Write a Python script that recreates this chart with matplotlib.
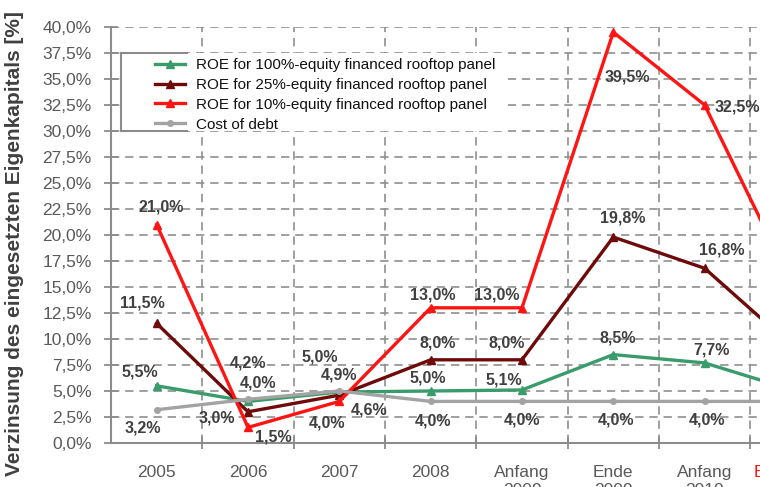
import matplotlib
matplotlib.use("Agg")
import matplotlib.pyplot as plt
from matplotlib.patches import Rectangle
from matplotlib.lines import Line2D

plt.rcParams['font.family'] = ['Liberation Sans', 'DejaVu Sans']

# --- data -------------------------------------------------------------
categories = ["2005", "2006", "2007", "2008", "Anfang\n2009", "Ende\n2009",
              "Anfang\n2010", "Ende 2010"]
roe_100 = [5.5, 4.0, 4.9, 5.0, 5.1, 8.5, 7.7, 5.0]
roe_25 = [11.5, 3.0, 4.6, 8.0, 8.0, 19.8, 16.8, 9.0]
roe_10 = [21.0, 1.5, 4.0, 13.0, 13.0, 39.5, 32.5, 14.5]
cost_of_debt = [3.2, 4.2, 5.0, 4.0, 4.0, 4.0, 4.0, 4.0]
y_ticks = [i * 2.5 for i in range(17)]

series_names = ["ROE for 100%-equity financed rooftop panel",
                "ROE for 25%-equity financed rooftop panel",
                "ROE for 10%-equity financed rooftop panel",
                "Cost of debt"]

# label offsets (pixels) for the value annotations of each series
off_100 = [(-17, 14), (10, 18), (0, 17), (-3, 13), (-18, 10), (4, 17), (7, 13)]
off_25 = [(-14, 20), (-31, -6), (30, -15), (7, 17), (-15, 17), (9, 19), (17, 18)]
off_10 = [(5, 18), (25, -10), (-12, -22), (2, 13), (-25, 13), (14, -45), (33, -2)]
off_debt = [(-14, -18), (0, 36), (-20, 34), (2, -20), (0, -19), (3, -19), (2, -19)]

GREEN = "#3a9b6b"
DARKRED = "#6e0a0a"
RED = "#ff1414"
GREY = "#a3a3a3"
LABEL = "#404040"
AXIS = "#8c8c8c"

fig = plt.figure(figsize=(7.6, 4.87), dpi=100)
ax = fig.add_axes([111 / 760, 44 / 487, 8 * 91.33 / 760, 416 / 487])

x = list(range(len(categories)))
styles = [
    (roe_100, GREEN, '^', 6, off_100),
    (roe_25, DARKRED, '^', 6, off_25),
    (roe_10, RED, '^', 6, off_10),
    (cost_of_debt, GREY, 'o', 4, off_debt),
]
handles = []
for (vals, col, mk, ms, offs), name in zip(styles, series_names):
    h, = ax.plot(x, vals, color=col, lw=2.4, marker=mk, ms=ms,
                 markeredgecolor=col, zorder=3, label=name)
    handles.append(h)
    for xi, v, (dx, dy) in zip(x, vals, offs):
        ax.annotate(f"{v:.1f}".replace('.', ',') + "%", (xi, v),
                    xytext=(dx, dy), textcoords='offset pixels',
                    ha='center', va='center', fontsize=11.5,
                    fontweight='bold', color=LABEL, zorder=4)

ax.set_xlim(-0.5, len(categories) - 0.5)
ax.set_ylim(0, 40)

# category labels at centres, tick marks and vertical grid at boundaries
ax.set_xticks(x)
ax.set_xticklabels(categories, fontsize=12.5, color="#595959", va='top',
                   linespacing=1.25)
ax.get_xticklabels()[-1].set_color(RED)
ax.tick_params(axis='x', which='major', length=0, pad=16)
ax.set_xticks([i + 0.5 for i in range(len(categories) - 1)], minor=True)
ax.tick_params(axis='x', which='minor', direction='inout', length=9,
               width=1.3, color=AXIS)

ax.set_yticks(y_ticks)
ax.set_yticklabels([f"{t:.1f}".replace('.', ',') + "%" for t in y_ticks],
                   fontsize=12.5, color="#595959")
ax.tick_params(axis='y', direction='inout', length=10, width=1.3,
               color=AXIS, pad=9)

ax.set_axisbelow(True)
ax.grid(axis='y', which='major', linestyle=(0, (5, 3.5)), color="#8f8f8f",
        lw=1.2)
ax.grid(axis='x', which='minor', linestyle=(0, (5, 3.5)), color="#8f8f8f",
        lw=1.2)

for side in ('top', 'right'):
    ax.spines[side].set_visible(False)
for side in ('left', 'bottom'):
    ax.spines[side].set_color(AXIS)
    ax.spines[side].set_linewidth(1.5)

# legend area: white panel with a partial frame
x0, x1, xr = 0.0133, 0.1036, 0.543
y0, y1 = 0.75, 0.9375
ax.add_patch(Rectangle((x0, y0), xr - x0, y1 - y0, transform=ax.transAxes,
                       facecolor='white', edgecolor='none', zorder=1))
for xs, ys in (([x0, x0], [y0, y1]), ([x0, x1], [y1, y1]),
               ([x0, x1], [y0, y0])):
    ax.add_line(Line2D(xs, ys, transform=ax.transAxes, color=AXIS, lw=1.5,
                       zorder=1.5, clip_on=False))

leg = ax.legend(handles=handles, loc='upper left',
                bbox_to_anchor=(0.060, 0.925), frameon=False, fontsize=11,
                borderpad=0, borderaxespad=0, handlelength=2.0,
                handletextpad=0.7, labelspacing=0.38)
for t in leg.get_texts():
    t.set_color("#111111")

fig.text(15 / 760, 1 - 244 / 487,
         "Verzinsung des eingesetzten Eigenkapitals [%]",
         rotation=90, ha='center', va='center', fontsize=15,
         fontweight='bold', color="#404040")

fig.savefig("out.png", dpi=100)
